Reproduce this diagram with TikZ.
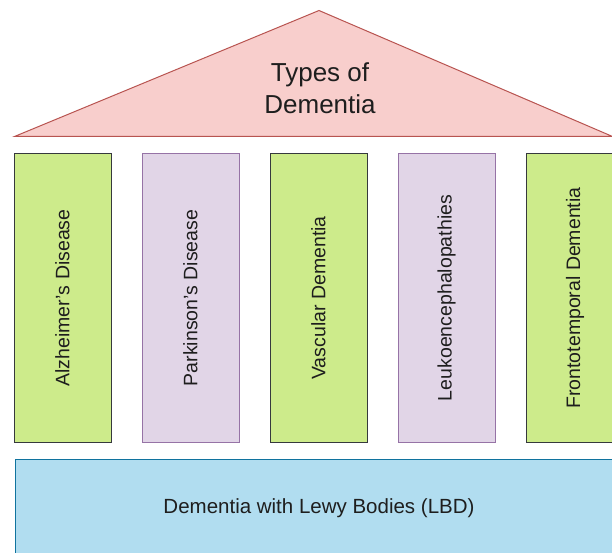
\documentclass[tikz,border=0pt]{standalone}
\usepackage{fontspec}
\setmainfont{Liberation Sans}
\definecolor{roofFill}{HTML}{F8CECC}
\definecolor{roofLine}{HTML}{B85450}
\definecolor{greenFill}{HTML}{CDEB8B}
\definecolor{greenLine}{HTML}{36393D}
\definecolor{lilacFill}{HTML}{E1D5E7}
\definecolor{lilacLine}{HTML}{9673A6}
\definecolor{baseFill}{HTML}{B1DDF0}
\definecolor{baseLine}{HTML}{10739E}
\definecolor{ink}{HTML}{1E1E1E}
\tikzset{
  pillar/.style={rectangle, rotate=90, minimum width=288pt, minimum height=97pt,
    line width=1pt, text=ink, inner sep=0pt,
    font=\fontsize{19.5}{23}\selectfont},
  greenpillar/.style={pillar, fill=greenFill, draw=greenLine},
  lilacpillar/.style={pillar, fill=lilacFill, draw=lilacLine},
  foundation/.style={rectangle, anchor=north west, minimum width=620pt, minimum height=110pt,
    fill=baseFill, draw=baseLine, line width=1pt},
  caption/.style={text=ink, inner sep=0pt, align=center}
}
\begin{document}
\begin{tikzpicture}[x=1pt, y=-1pt]
  \useasboundingbox (0,0) rectangle (612,553);
  \clip (0,0) rectangle (612,553);
  \fill[white] (0,0) rectangle (612,553);

  % roof
  \coordinate (roofL) at (14.5,136.5);
  \coordinate (roofR) at (612.5,136.5);
  \coordinate (roofT) at (319,10.5);
  \draw[fill=roofFill, draw=roofLine, line width=1pt, line join=miter]
    (roofL) -- (roofT) -- (roofR) -- cycle;
  % the base anchor sits on the last line's baseline
  \node[caption, font=\fontsize{26}{32}\selectfont, anchor=base] (title) at (320,114)
    {Types of\\Dementia};

  % pillars
  \node[greenpillar] (alz)  at (62.5,298)  {Alzheimer's Disease};
  \node[lilacpillar] (park) at (190.5,298) {Parkinson's Disease};
  \node[greenpillar] (vasc) at (318.5,298) {Vascular Dementia};
  \node[lilacpillar] (leuk) at (446.5,298) {Leukoencephalopathies};
  \node[greenpillar] (ftd)  at (575,298)   {Frontotemporal Dementia};

  % foundation
  \node[foundation] (lbd) at (14.5,459) {};
  \node[caption, font=\fontsize{20.5}{24}\selectfont, anchor=base] (lbdtext) at (319,513.3)
    {Dementia with Lewy Bodies (LBD)};
\end{tikzpicture}
\end{document}
